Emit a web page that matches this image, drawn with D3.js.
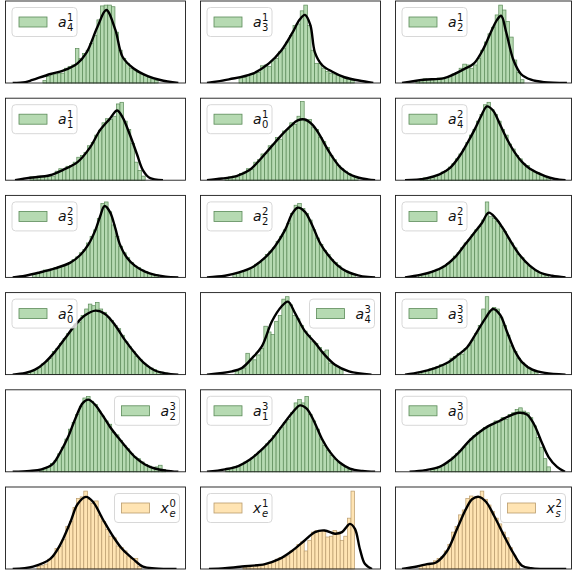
<!DOCTYPE html>
<html>
<head>
<meta charset="utf-8">
<script src="https://cdnjs.cloudflare.com/ajax/libs/d3/7.8.5/d3.min.js"></script>
<style>
  html, body { margin: 0; padding: 0; background: #fff; }
  svg { display: block; }
</style>
</head>
<body>
<script>
// bar heights and kde points, in percent of the panel (x: width, y: height)
const a41Bars = [3,8,10,11,12,12,18,20,22,42,30,36,40,48,58,77,94,95,95,93,62,40,30,24,18,16,13,11,9,7,5,3];
const a41Span = [20.8, 84.8];
const a41Kde = [[4,0],[11,1],[15,3.7],[25,11],[32,15],[40,24],[45,37],[51,68],[56,89],[61,65],[65,32],[71,18],[79,8.5],[86,3.7],[96,0]];

const a31Bars = [6,7,9,11,12,13,21,22,20,27,30,38,42,50,58,70,72,88,95,70,40,24,24,18,14,12,11,9,8,6,5,3];
const a31Span = [21.4, 85.4];
const a31Kde = [[3.6,0],[15.8,4.5],[28.6,11],[38,24],[45,40],[51,61],[55,77],[58,83],[61,71],[63.6,37],[67.5,22],[73,14],[80,7],[88,3],[96,0]];

const a21Bars = [3,4,5,4,5,5,6,6,7,8,11,13,18,23,22,18,22,30,40,50,60,68,83,95,89,75,56,28,13,4];
const a21Span = [11.6, 73];
const a21Kde = [[3.7,0],[16,4],[27.6,6],[39,17],[44.6,24],[50,42],[54,61],[57.7,77],[60,82],[63,61],[67,28],[71.3,11],[77,4],[84.4,1],[97.4,0]];

const a11Bars = [4,4,5,4,5,5,5,11,14,13,17,18,22,28,30,34,42,46,55,61,70,75,74,78,93,95,72,62,45,22,12,5];
const a11Span = [13.6, 77.6];
const a11Kde = [[5.3,0],[13.6,3],[24.7,6],[32,12.6],[40,22],[47,40],[52.5,61],[58,75],[62,85],[65,77],[69,56],[73,32],[76.4,12],[80,3],[87.5,0]];

const a01Bars = [3,4,5,4,8,10,14,13,22,25,32,33,42,44,52,50,60,62,70,68,78,96,72,74,64,62,52,47,40,30,25,18,14,11,8,6,3];
const a01Span = [13.6, 87.6];
const a01Kde = [[3.6,0],[12,2],[20,5],[27,12],[33,25],[39,40],[45,55],[50,66],[54,73],[58,74],[62,68],[66,56],[70,40],[74,26],[78,15],[83,7],[88,3],[93,1],[97,0]];

const a42Bars = [2,3,3,4,6,7,10,12,16,20,26,32,38,46,55,62,72,80,92,95,86,80,72,62,55,44,38,30,26,20,18,13,10,9,6,4,3];
const a42Span = [14, 88];
const a42Kde = [[5.4,0],[16.8,2],[25,7],[31,15],[36.6,30],[41,46],[45,62],[48.6,78],[52,90],[55.4,85],[59.4,68],[63.4,50],[68,33],[72,22],[76.4,14],[85,5],[90.6,1.5],[96.6,0]];

const a32Bars = [4,5,6,9,8,10,12,13,14,16,18,22,25,30,34,42,50,58,72,90,92,80,64,50,38,30,24,18,14,12,9,7,5,4,3];
const a32Span = [15, 85];
const a32Kde = [[4,0],[11,2],[19,6],[27.5,11],[36,18],[41.4,27],[46,40],[50,58],[52.5,74],[55,87],[58,80],[61,60],[63.6,40],[67.5,24],[72,14],[77.5,7],[83,3],[89,1],[96,0]];

const a22Bars = [4,5,7,8,10,12,16,18,22,28,32,36,44,50,58,66,78,88,90,84,78,70,58,48,40,33,28,22,18,14,10,8,6,4];
const a22Span = [18, 86];
const a22Kde = [[3.6,0],[13.6,2],[21.4,6],[30,14],[35.8,24],[41.4,38],[47,58],[51,78],[54,85],[58,80],[62,64],[66.4,42],[71,27],[76,15],[81.4,7],[87.5,2.5],[93,0.5],[97,0]];

const a12Bars = [3,4,5,6,8,10,11,14,17,20,26,30,36,42,46,52,58,62,70,92,74,72,68,62,56,48,42,36,28,24,18,14,11,8,6,4,3];
const a12Span = [13, 87];
const a12Kde = [[5.4,0],[14,3],[21,7],[28,14],[34,25],[39.5,40],[45,55],[49,66],[53,79],[57,72],[61,60],[66,42],[70.7,27],[76.4,14],[82,6],[89,2],[96.6,0]];

const a02Bars = [3,4,6,9,13,16,20,28,32,38,44,50,56,62,64,72,80,86,84,88,80,76,70,66,60,56,48,40,34,28,22,18,14,10,8,6,4,3,2];
const a02Span = [12, 90];
const a02Kde = [[4,0],[11,2],[16.4,6],[22,15],[27.5,28],[33,44],[38.6,60],[44,72],[50,78],[55.3,74],[61,60],[66.4,42],[72,26],[77.5,13],[83,5],[89,1.5],[96,0]];

const a43Bars = [4,6,8,26,20,18,24,32,59,52,49,65,72,92,95,85,72,68,60,53,48,40,38,33,28,30,14,12,10,7];
const a43Span = [19.2, 79.2];
const a43Kde = [[3.6,0],[17.5,4],[23,8],[28.6,20],[34,34],[39.7,65],[45,83],[48.6,89],[52.5,75],[58,53],[63.6,39],[69,24],[74.7,12],[82.5,4],[95,0]];

const a33Bars = [3,4,5,7,8,10,12,12,15,20,22,26,25,32,36,42,50,60,80,95,78,82,80,70,60,48,35,28,20,15,11,7,5,3];
const a33Span = [13, 81];
const a33Kde = [[5.4,0],[14,3],[22.4,8],[30,15],[35.5,24],[40.6,33],[45.7,50],[50.9,68],[55.4,80],[59.4,73],[63.4,52],[68,28],[72,15],[77.8,6],[85,2],[96.6,0]];

const a23Bars = [2,4,6,10,14,22,30,40,52,60,70,80,90,92,86,82,74,68,62,58,48,45,38,32,28,22,18,16,12,9,7,5,6,8,3];
const a23Span = [19, 89];
const a23Kde = [[4,0],[13.6,1],[20,3],[26,9],[30,22],[34.7,42],[39,66],[43,84],[46,88],[49.7,82],[53.6,70],[58,55],[62.5,42],[67,30],[72,18],[77.5,9],[83,4],[89,1.5],[96,0]];

const a13Bars = [3,4,6,7,9,12,14,17,21,25,28,34,38,44,48,54,60,64,72,84,88,84,92,70,62,52,40,32,26,20,15,11,8,5,3];
const a13Span = [14, 84];
const a13Kde = [[3.6,0],[13.6,3],[21,7],[27.5,15],[34,27],[39.7,40],[45.3,56],[51,72],[55.3,81],[59,77],[63,62],[67.5,40],[72,24],[77.5,11],[83,4],[90,1],[97,0]];

const a03Bars = [3,4,6,8,10,14,18,22,26,30,34,40,44,48,50,54,56,58,62,60,66,64,70,72,76,78,74,72,66,56,42,30,16,6];
const a03Span = [20, 88];
const a03Kde = [[8,0],[17,2],[25,6],[31,14],[36.6,25],[42,38],[47.4,48],[53,56],[59,62],[64.5,68],[70,72],[74.7,70],[78.7,58],[82.7,38],[87,18],[91.8,6],[96.3,0]];

const xe0Bars = [3,4,6,12,15,25,28,36,52,58,75,86,88,95,85,80,83,65,58,48,40,38,28,26,22,16,13,13,3];
const xe0Span = [17.5, 75.5];
const xe0Kde = [[4,0],[15.3,3],[24.7,12],[30,28],[36,57],[40,79],[44.7,88],[48.6,82],[54,61],[60,39],[65,24],[71,12],[76.4,3],[83,0.8],[95,0]];

const xe1Bars = [2,3,3,4,4,5,6,7,9,12,14,14,16,22,24,30,33,22,35,45,47,47,46,39,40,47,45,35,40,62,95];
const xe1Span = [23.6, 85.6];
const xe1Kde = [[4.7,0],[13.6,1],[23,3],[35.8,6],[43.6,12],[50.8,22],[58,35],[63.6,45],[69,47],[74.7,43],[78.6,45],[81.4,52],[83,55],[85.8,49],[88.6,24],[91.4,6],[95.3,0]];

const xs2Bars = [3,5,5,6,10,13,15,22,30,45,52,66,72,86,89,86,88,95,85,78,70,62,55,45,38,26,16,8];
const xs2Span = [13.4, 70.6];
const xs2Kde = [[3.7,0],[12.2,3],[17.9,6],[23,8],[29.3,22],[35,49],[40,73],[43.5,85],[47.4,88],[51.4,82],[56,65],[61.6,41],[67.3,18],[71.9,4],[77,1],[97,0]];

// legend labels: base letter, superscript, subscript
const labelBase = ['a','a','a', 'a','a','a', 'a','a','a', 'a','a','a', 'a','a','a', 'x','x','x'];
const labelSup  = ['1','1','1', '1','1','2', '2','2','2', '2','3','3', '3','3','3', '0','1','2'];
const labelSub  = ['4','3','2', '1','0','4', '3','2','1', '0','4','3', '2','1','0', 'e','e','s'];
const legendLoc = ['ul','ul','ul', 'ul','ul','ul', 'ul','ul','ul', 'ul','ur','ul', 'ur','ul','ul', 'ur','ul','ur'];

const panels = [
  [a41Bars, a41Span, a41Kde], [a31Bars, a31Span, a31Kde], [a21Bars, a21Span, a21Kde],
  [a11Bars, a11Span, a11Kde], [a01Bars, a01Span, a01Kde], [a42Bars, a42Span, a42Kde],
  [a32Bars, a32Span, a32Kde], [a22Bars, a22Span, a22Kde], [a12Bars, a12Span, a12Kde],
  [a02Bars, a02Span, a02Kde], [a43Bars, a43Span, a43Kde], [a33Bars, a33Span, a33Kde],
  [a23Bars, a23Span, a23Kde], [a13Bars, a13Span, a13Kde], [a03Bars, a03Span, a03Kde],
  [xe0Bars, xe0Span, xe0Kde], [xe1Bars, xe1Span, xe1Kde], [xs2Bars, xs2Span, xs2Kde]
];

var width = 574, height = 576;
var colX = [5.5, 200.5, 395.5], colW = [180, 180, 176];
var rowY = [1, 98.2, 195.4, 292.6, 389.8, 487], rowH = 82;

var fillGreen = '#b6dab2', edgeGreen = '#5b8a58';
var fillOrange = '#ffe4b3', edgeOrange = '#b99b6c';

var svg = d3.select('body').append('svg').attr('width', width).attr('height', height);

panels.forEach(function (p, k) {
    var bars = p[0], span = p[1], kde = p[2];
    var r = Math.floor(k / 3), c = k % 3;
    var w = colW[c], h = rowH;
    var orange = r == 5;
    var fill = orange ? fillOrange : fillGreen;
    var edge = orange ? edgeOrange : edgeGreen;

    var g = svg.append('g').attr('transform', 'translate(' + colX[c] + ',' + rowY[r] + ')');
    var x = d3.scaleLinear().domain([0, 100]).range([0, w]);
    var y = d3.scaleLinear().domain([0, 100]).range([h, 0]);
    var step = (span[1] - span[0]) / bars.length;

    g.append('clipPath').attr('id', 'clip' + k)
        .append('rect').attr('width', w).attr('height', h);

    g.append('g').selectAll('rect')
        .data(bars)
        .enter().append('rect')
        .attr('x', function (d, i) { return x(span[0] + i * step); })
        .attr('width', x(step) - x(0))
        .attr('y', function (d) { return y(d); })
        .attr('height', function (d) { return y(0) - y(d); })
        .attr('fill', fill)
        .attr('stroke', edge)
        .attr('stroke-width', 0.7);

    var line = d3.line()
        .x(function (d) { return x(d[0]); })
        .y(function (d) { return y(d[1]); })
        .curve(d3.curveCatmullRom.alpha(0.5));

    g.append('path').datum(kde)
        .attr('d', line)
        .attr('fill', 'none')
        .attr('stroke', '#000')
        .attr('stroke-width', 2.4)
        .attr('stroke-linejoin', 'round')
        .attr('clip-path', 'url(#clip' + k + ')');

    g.append('rect')
        .attr('width', w).attr('height', h)
        .attr('fill', 'none')
        .attr('stroke', '#1a1a1a')
        .attr('stroke-width', 0.9);

    // legend
    var lw = 65, lh = 29;
    var lx = legendLoc[k] == 'ul' ? 6.5 : w - lw - 6;
    var lg = g.append('g').attr('transform', 'translate(' + lx + ',6.5)');
    lg.append('rect')
        .attr('width', lw).attr('height', lh).attr('rx', 3.5)
        .attr('fill', '#fff').attr('fill-opacity', 0.8)
        .attr('stroke', '#d4d4d4').attr('stroke-width', 0.9);
    lg.append('rect')
        .attr('x', 7).attr('y', 9.5).attr('width', 28).attr('height', 10)
        .attr('fill', fill).attr('stroke', edge).attr('stroke-width', 0.8);

    var txt = lg.append('text')
        .attr('font-family', 'DejaVu Sans, sans-serif')
        .attr('fill', '#111');
    txt.append('tspan').attr('x', 46).attr('y', 19.5)
        .attr('font-size', 14).attr('font-style', 'italic').text(labelBase[k]);
    txt.append('tspan').attr('x', 55).attr('y', 13.5)
        .attr('font-size', 10).text(labelSup[k]);
    txt.append('tspan').attr('x', 55).attr('y', 23.5)
        .attr('font-size', 10)
        .attr('font-style', /[a-z]/.test(labelSub[k]) ? 'italic' : 'normal')
        .text(labelSub[k]);
});
</script>
</body>
</html>
